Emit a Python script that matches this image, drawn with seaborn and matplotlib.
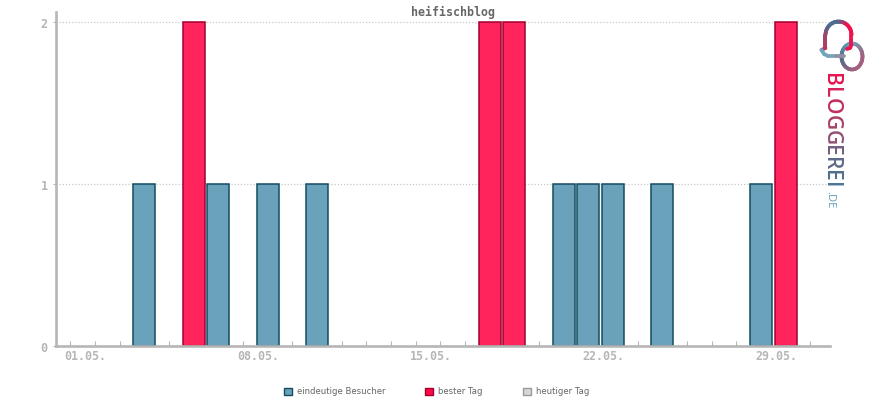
import numpy as np
import pandas as pd
import seaborn as sns
import matplotlib
matplotlib.use("Agg")
import matplotlib.pyplot as plt
from matplotlib.patches import Patch
from matplotlib.colors import LinearSegmentedColormap
from matplotlib.transforms import ScaledTranslation

TITLE = "heifischblog"
visitor_days = [4, 7, 9, 11, 21, 22, 23, 25, 29]
visitor_values = [1, 1, 1, 1, 1, 1, 1, 1, 1]
best_days = [6, 18, 19, 30]
best_values = [2, 2, 2, 2]
date_labels = ["01.05.", "08.05.", "15.05.", "22.05.", "29.05."]
label_days = [1, 8, 15, 22, 29]
series_names = ["eindeutige Besucher", "bester Tag", "heutiger Tag"]

W, H = 870, 400
sns.set_theme(style="white")
fig = plt.figure(figsize=(W / 100, H / 100), dpi=100, facecolor="white")
ax = fig.add_axes([56 / W, 1 - 345.5 / H, (830 - 56) / W, (345.5 - 12) / H])

df = pd.DataFrame({
    "day": visitor_days + best_days,
    "value": visitor_values + best_values,
    "series": [series_names[0]] * len(visitor_days) + [series_names[1]] * len(best_days),
})
pal = {series_names[0]: "#6aa2bb", series_names[1]: "#ff245c"}
edges = ["#134b60", "#a3002f"]
sns.barplot(data=df, x="day", y="value", hue="series", native_scale=True, dodge=False,
            width=0.89, palette=pal, saturation=1, legend=False, ax=ax, zorder=2)
for cont, ec in zip(ax.containers, edges):
    for b in cont:
        b.set_edgecolor(ec)
        b.set_linewidth(1.1)
        b.set_clip_on(False)

ax.set_xlim(0.424, 31.80)
ax.set_ylim(0, 2.065)
ax.set_xlabel("")
ax.set_ylabel("")
GREY = "#b6b6b6"
for s in ["top", "right"]:
    ax.spines[s].set_visible(False)
for s in ["left", "bottom"]:
    ax.spines[s].set_color(GREY)
    ax.spines[s].set_linewidth(1.9)
    ax.spines[s].set_zorder(3)
ax.set_yticks([0, 1, 2])
ax.set_yticklabels(["0", "1", "2"], family="DejaVu Sans Mono", fontsize=8.5,
                   color=GREY, fontweight="bold")
ax.tick_params(axis="y", length=2, width=0.8, color=GREY, pad=4, left=True)
for lab in ax.get_yticklabels():
    lab.set_verticalalignment("center")
    lab.set_transform(lab.get_transform() + ScaledTranslation(0, -2.5 / 100, fig.dpi_scale_trans))
ax.yaxis.grid(True, color="#c8c8c8", linestyle=(0, (1, 1.5)), linewidth=0.9, zorder=0)
ax.set_axisbelow(True)
ax.set_xticks(range(1, 32))
ax.set_xticklabels([])
ax.tick_params(axis="x", direction="in", length=3.5, width=0.8, color=GREY, bottom=True)
for d, t in zip(label_days, date_labels):
    ax.annotate(t, xy=(d, 0), xycoords="data", xytext=(15.5 * 0.72, -7.6), textcoords="offset points",
                ha="center", va="center", family="DejaVu Sans Mono", fontsize=8.4,
                fontweight="bold", color=GREY, annotation_clip=False)

fig.text(453 / W, 1 - 12 / H, TITLE, ha="center", va="center", family="DejaVu Sans Mono",
         fontsize=8.4, fontweight="bold", color="#666666")

handles = [Patch(facecolor="#6aa2bb", edgecolor="#134b60", linewidth=1),
           Patch(facecolor="#ff0a47", edgecolor="#a3002f", linewidth=1),
           Patch(facecolor="#d6d6d6", edgecolor="#999999", linewidth=1)]
fig.legend(handles, series_names, loc="center", bbox_to_anchor=(436.5 / W, 1 - 392 / H), ncol=3,
           frameon=False, labelcolor="#666666", handlelength=0.9, handleheight=0.9,
           handletextpad=0.6, columnspacing=4.7, borderpad=0,
           prop={"family": "DejaVu Sans", "size": 6.15})

# Logo: overlay in pixel coordinates
logo = fig.add_axes([0, 0, 1, 1], facecolor="none", zorder=5)
logo.set_xlim(0, W); logo.set_ylim(H, 0); logo.axis("off")


def stroke(xs, ys, colors, lw=2.7):
    cm = LinearSegmentedColormap.from_list("g", colors)
    xs, ys = np.asarray(xs, float), np.asarray(ys, float)
    t = np.linspace(0, 1, len(xs))
    for i in range(len(xs) - 1):
        logo.plot(xs[i:i + 2], ys[i:i + 2], color=cm(t[i]), lw=lw, solid_capstyle="round")


ph = np.linspace(np.pi, 0, 50)
RED, PLUM, SLATE, TEAL, MAUVE = "#f0114f", "#a0456c", "#4f6b8f", "#6aa8c0", "#a5607f"
# linked loop
a = np.linspace(-np.pi / 2, 1.5 * np.pi, 80)
stroke(852 + 10.5 * np.cos(a), 56.5 + 13 * np.sin(a), [TEAL, MAUVE, MAUVE, SLATE, TEAL])
# bubble
stroke(np.linspace(825.5, 825.5, 12), np.linspace(48, 35, 12), ["#b23a62", PLUM])
stroke(838.5 + 13 * np.cos(ph), 35 - 13.5 * np.sin(ph), [PLUM, SLATE, SLATE, RED, RED])
stroke([851.5, 851.5, 851.5, 850, 847], [35, 40, 45, 48, 49], [RED, RED])
stroke([825.5, 821.5], [48, 50], ["#b23a62", "#b23a62"])
stroke([821.5, 824, 828, 836, 844], [50, 54, 56, 56, 56], [TEAL, TEAL, "#8aa0b0", MAUVE])

letters = "BLOGGEREI"
advances = [0.65, 0.52, 0.78, 0.72, 0.72, 0.56, 0.62, 0.56, 0.28]
letter_colors = ["#e5174f", "#d5235a", "#c22e5f", "#a84068", "#8f5275",
                 "#745f80", "#5f6a8a", "#4f6f90", "#4d7596"]
yy = 73.0
for ch, adv, col in zip(letters, advances, letter_colors):
    logo.text(831, yy, ch, rotation=-90, ha="center", va="top", family="Open Sans",
              fontsize=15, color=col, fontweight="semibold")
    yy += adv * 21.3
logo.text(829.5, 191, ".DE", rotation=-90, ha="center", va="top", family="Open Sans",
          fontsize=8, color="#5f9cb8")

fig.savefig("out.png", dpi=100)
